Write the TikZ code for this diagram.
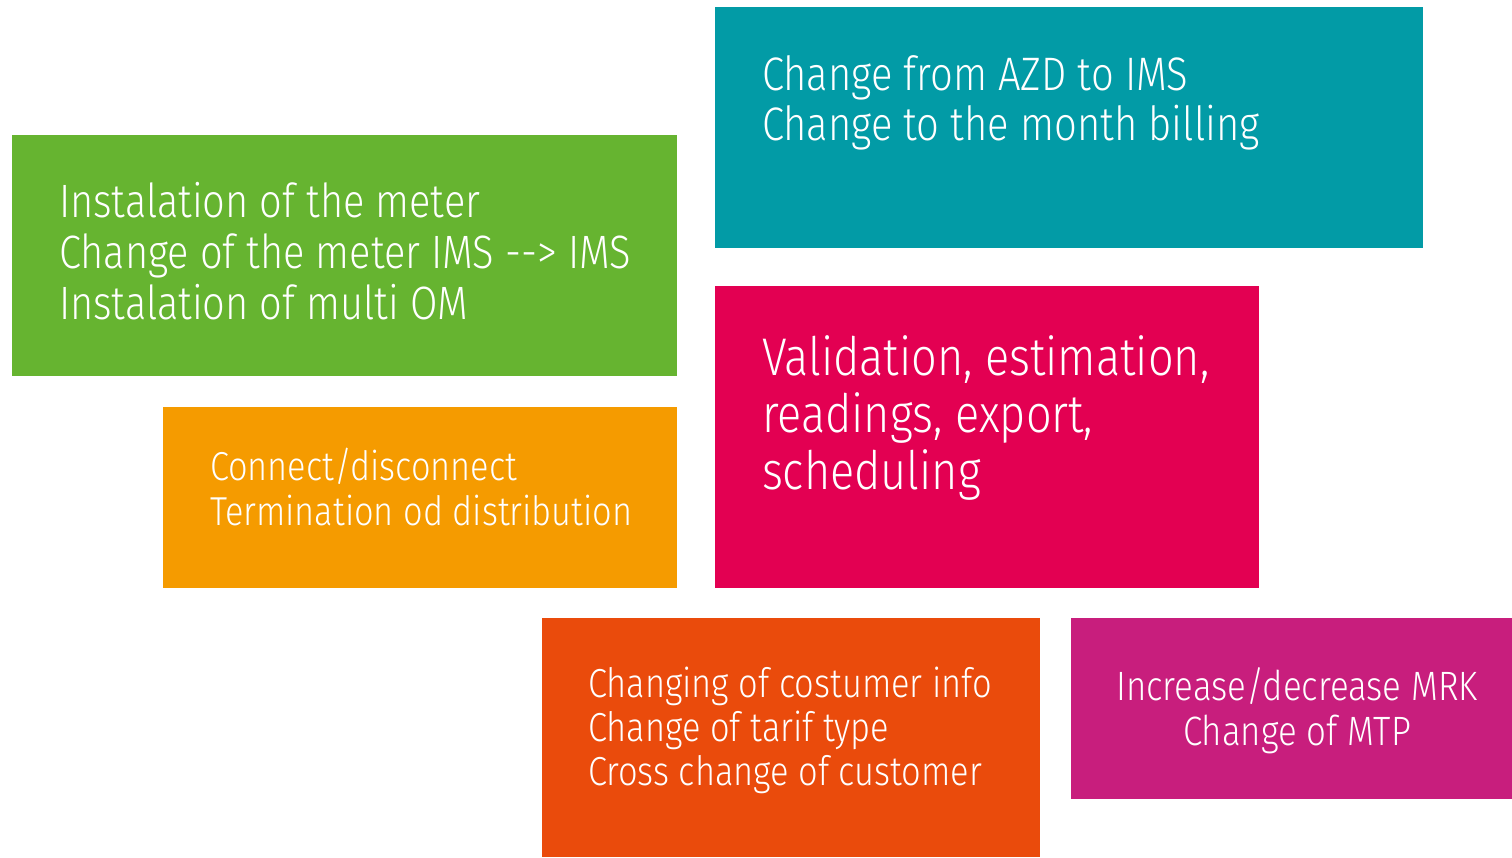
\documentclass[tikz,border=0pt]{standalone}
\usepackage{fontspec}
\setmainfont{Fira Sans}[UprightFont=* Light, FakeStretch=0.85]
\definecolor{cteal}{RGB}{2,155,166}
\definecolor{cgreen}{RGB}{102,180,48}
\definecolor{corange}{RGB}{245,155,0}
\definecolor{ccrimson}{RGB}{227,0,82}
\definecolor{cred}{RGB}{234,75,12}
\definecolor{cmagenta}{RGB}{200,30,125}
\begin{document}
\begin{tikzpicture}[x=1pt,y=-1pt,
  tile/.style={fill=#1, draw=none, inner sep=0pt, outer sep=0pt},
  label/.style={text=white, inner sep=0pt, outer sep=0pt, anchor=base west, align=left},
]
\useasboundingbox (0,0) rectangle (1512,857);
\fill[white] (0,0) rectangle (1512,857);

\path[tile=cteal]    (715,7)   rectangle (1423,248) coordinate (teal);
\path[tile=cgreen]   (12,135)  rectangle (677,376)  coordinate (green);
\path[tile=corange]  (163,407) rectangle (677,588)  coordinate (orange);
\path[tile=ccrimson] (715,286) rectangle (1259,588) coordinate (crimson);
\path[tile=cred]     (542,618) rectangle (1040,857) coordinate (red);
\path[tile=cmagenta] (1071,618) rectangle (1512,799) coordinate (magenta);

% anchors are at the baseline of the last line
\node[label, font=\fontsize{47}{50}\selectfont] (tealtext) at (762,140)
  {Change from AZD to IMS\\Change to the month billing};
\node[label, font=\fontsize{46.8}{51}\selectfont] (greentext) at (59,319)
  {Instalation of the meter\\Change of the meter IMS -\kern0pt-\kern0pt> IMS\\Instalation of multi OM};
\node[label, font=\fontsize{40.4}{45}\selectfont] (orangetext) at (210,525)
  {Connect/disconnect\\Termination od distribution};
\node[label, font=\fontsize{53}{57}\selectfont] (crimsontext) at (762,489)
  {Validation, estimation,\\readings, export,\\scheduling};
\node[label, font=\fontsize{40.5}{44}\selectfont] (redtext) at (588,785)
  {Changing of costumer info\\Change of tarif type\\Cross change of customer};
\node[label, anchor=base, align=center, font=\fontsize{41}{45}\selectfont] (magentatext) at (1297,745)
  {Increase/decrease MRK\\Change of MTP};
\end{tikzpicture}
\end{document}
